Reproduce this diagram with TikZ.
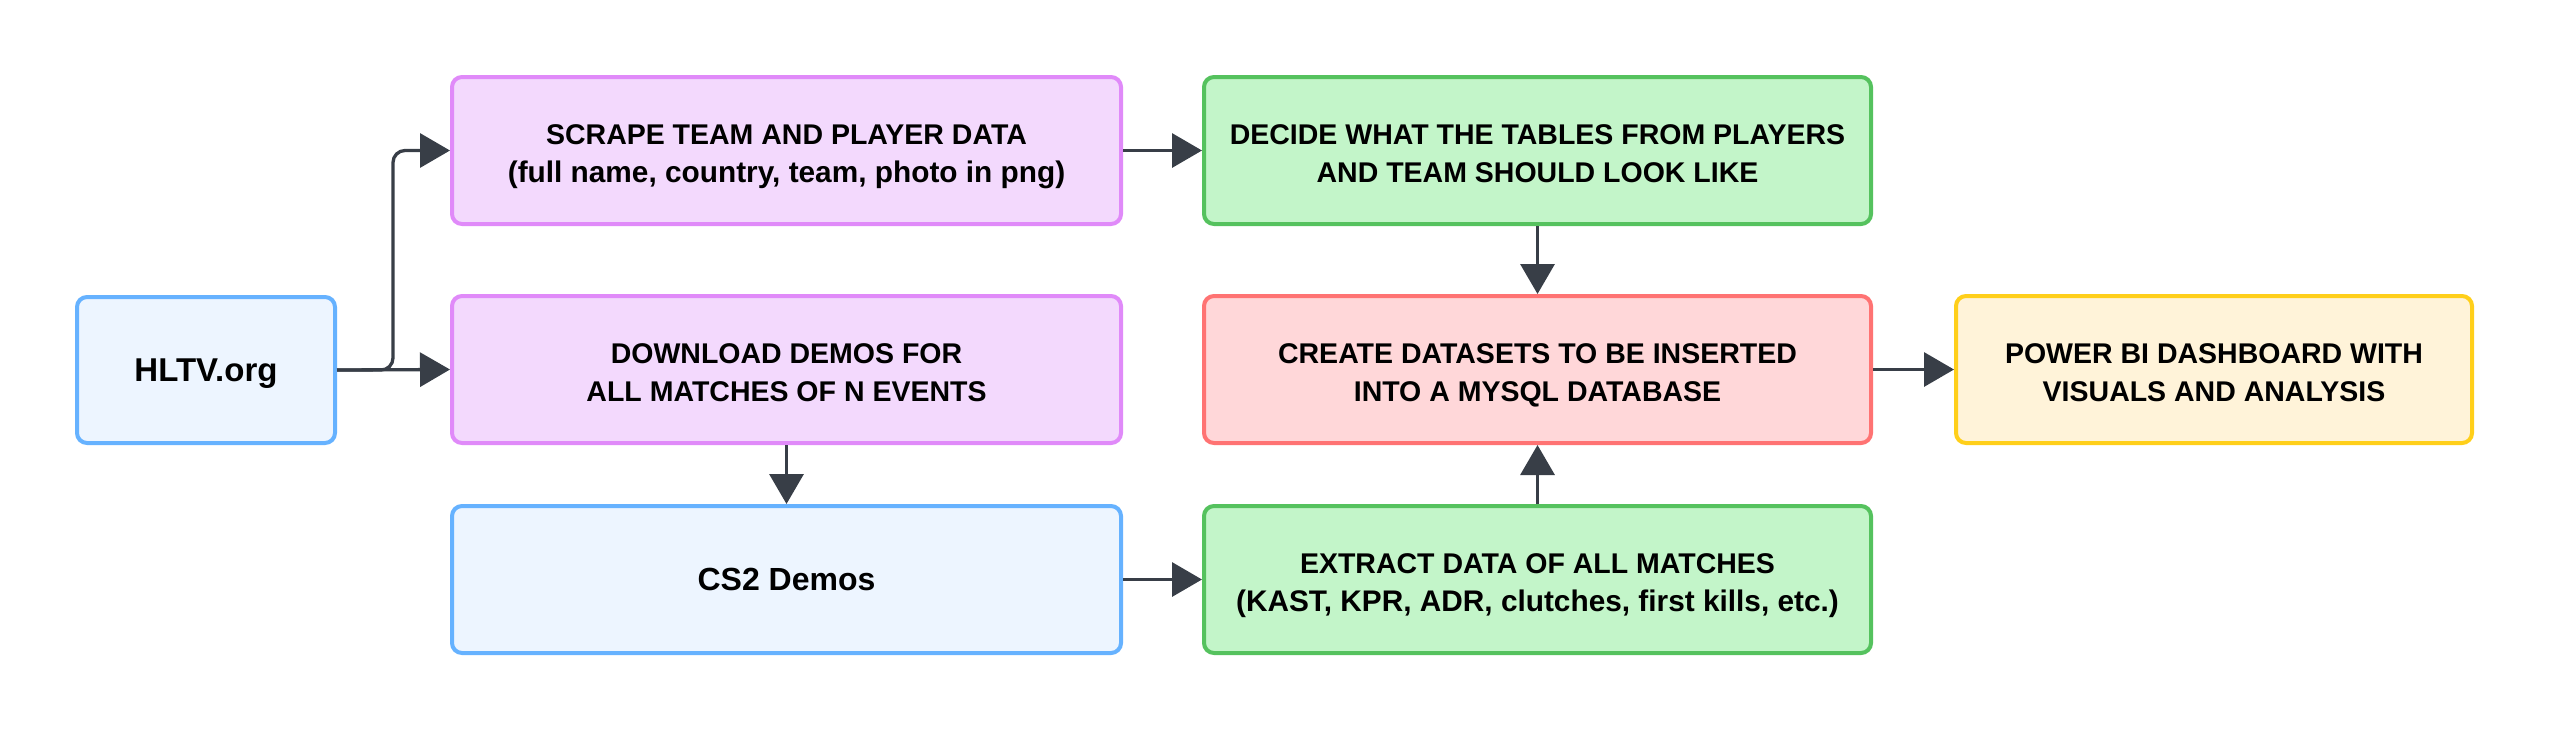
\documentclass[tikz,border=0pt]{standalone}
\usepackage{fontspec}
\setmainfont{Liberation Sans}
\usetikzlibrary{arrows.meta}
\definecolor{bluefill}{HTML}{EDF5FF}
\definecolor{blueline}{HTML}{66B2FF}
\definecolor{purpfill}{HTML}{F3D9FD}
\definecolor{purpline}{HTML}{E08AF9}
\definecolor{greenfill}{HTML}{C3F5C9}
\definecolor{greenline}{HTML}{55C25E}
\definecolor{redfill}{HTML}{FFD7D9}
\definecolor{redline}{HTML}{FF7373}
\definecolor{yelfill}{HTML}{FFF3D9}
\definecolor{yelline}{HTML}{FFCF1A}
\definecolor{arrcol}{HTML}{383E47}
\newcommand{\topstrut}{\rule{0pt}{26pt}}
\newcommand{\lc}{\fontsize{29.8}{37.5}\selectfont}
\tikzset{
  box/.style={draw, line width=4pt, rounded corners=10pt, align=center,
    inner sep=0pt, text depth=0pt, font=\bfseries\fontsize{28.5}{37.5}\selectfont, text=black},
  bigbox/.style={box, minimum width=669pt, minimum height=147pt},
  bluebox/.style={fill=bluefill, draw=blueline},
  purpbox/.style={fill=purpfill, draw=purpline},
  greenbox/.style={fill=greenfill, draw=greenline},
  redbox/.style={fill=redfill, draw=redline},
  yelbox/.style={fill=yelfill, draw=yelline},
  arr/.style={draw=arrcol, line width=3.3pt, -{Triangle[length=30pt,width=34pt]}, arrcol}
}
\begin{document}
\begin{tikzpicture}[x=1pt,y=-1pt]
\useasboundingbox (0,0) rectangle (2550,729);
\node[box, bluebox, minimum width=258pt, minimum height=146pt,
  font=\bfseries\fontsize{33}{40}\selectfont] (hltv) at (206,370) {HLTV.org};
\node[bigbox, purpbox] (scrape) at (786.5,150.5)
  {\topstrut SCRAPE TEAM AND PLAYER DATA\\{\lc(full name, country, team, photo in png)}};
\node[bigbox, purpbox] (download) at (786.5,369.5)
  {\topstrut DOWNLOAD DEMOS FOR\\ALL MATCHES OF N EVENTS};
\node[bigbox, bluebox, font=\bfseries\fontsize{32}{38}\selectfont] (cs2) at (786.5,579.5) {CS2 Demos};
\node[bigbox, greenbox, minimum width=667pt] (decide) at (1537.5,150.5)
  {\topstrut DECIDE WHAT THE TABLES FROM PLAYERS\\AND TEAM SHOULD LOOK LIKE};
\node[bigbox, redbox, minimum width=667pt] (create) at (1537.5,369.5)
  {\topstrut CREATE DATASETS TO BE INSERTED\\INTO A MYSQL DATABASE};
\node[bigbox, greenbox, minimum width=667pt] (extract) at (1537.5,579.5)
  {\topstrut EXTRACT DATA OF ALL MATCHES\\{\lc(KAST, KPR, ADR, clutches, first kills, etc.)}};
\node[box, yelbox, minimum width=516pt, minimum height=147pt] (powerbi) at (2214,369.5)
  {\topstrut POWER BI DASHBOARD WITH\\VISUALS AND ANALYSIS};
\draw[arr, rounded corners=12pt] (hltv.east) -- ++(56,0) |- (scrape.west);
\draw[arr] (hltv.east) -- (download.west);
\draw[arr] (download.south) -- (cs2.north);
\draw[arr] (scrape.east) -- (decide.west);
\draw[arr] (cs2.east) -- (extract.west);
\draw[arr] (decide.south) -- (create.north);
\draw[arr] (extract.north) -- (create.south);
\draw[arr] (create.east) -- (powerbi.west);
\end{tikzpicture}
\end{document}
